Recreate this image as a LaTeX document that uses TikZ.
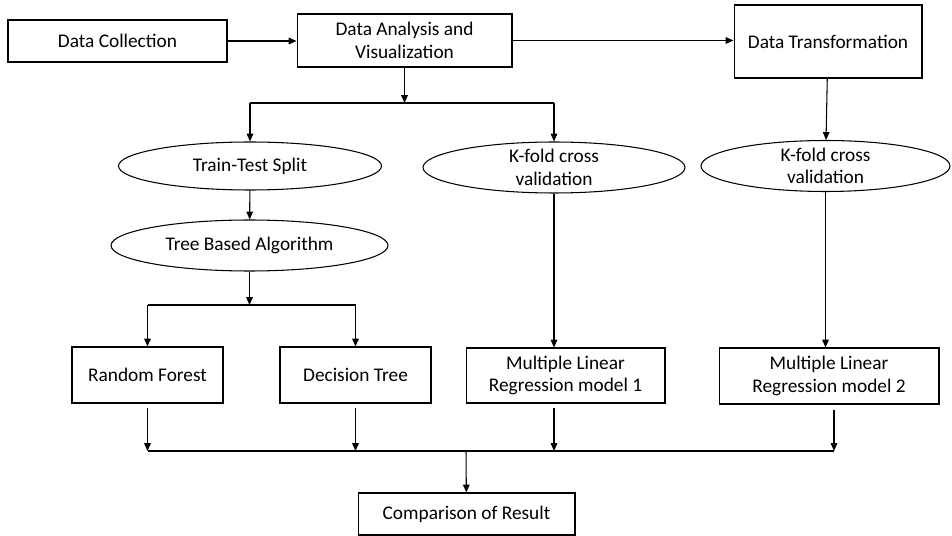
\documentclass[tikz,border=0pt]{standalone}
\usepackage{fontspec}
\setmainfont{Carlito}
\usepackage{tikz}
\usetikzlibrary{shapes}
\usetikzlibrary{arrows.meta}
\usetikzlibrary{calc}

\begin{document}
\begin{tikzpicture}[x=0.02cm,y=-0.02cm,line width=0.6pt,font=\fontsize{11}{12.8}\selectfont,
  box/.style={draw,rectangle,align=center,inner sep=0pt},
  oval/.style={draw,ellipse,align=center,inner sep=0pt},
  arr/.style={-{Triangle[length=4.5pt,width=3.8pt]}}]
  \useasboundingbox (0,0) rectangle (952,536);
  % top row
  \node[box,minimum width=4.38cm,minimum height=0.84cm] (coll) at (117.5,41) {Data Collection};
  \node[box,minimum width=4.30cm,minimum height=1.06cm] (ana) at (404.5,40.5) {Data Analysis and\\Visualization};
  \node[box,minimum width=3.76cm,minimum height=1.46cm] (trans) at (828,41.5) {Data Transformation};
  % ellipses
  \node[oval,minimum width=5.26cm,minimum height=0.96cm] (tts) at (250,166) {Train-Test Split};
  \node[oval,minimum width=5.24cm,minimum height=0.98cm] (kfa) at (554,167.5) {K-fold cross\\validation};
  \node[oval,minimum width=4.98cm,minimum height=0.96cm] (kfb) at (825.5,166) {K-fold cross\\validation};
  \node[oval,minimum width=5.54cm,minimum height=1.02cm] (tba) at (249.5,245.5) {Tree Based Algorithm};
  % models
  \node[box,minimum width=3.02cm,minimum height=1.12cm] (rf) at (147.5,375) {Random Forest};
  \node[box,minimum width=3.02cm,minimum height=1.12cm] (dt) at (355.5,375) {Decision Tree};
  \node[box,minimum width=3.98cm,minimum height=1.10cm] (mlra) at (565.5,375.5) {Multiple Linear\\Regression model 1};
  \node[box,minimum width=4.40cm,minimum height=1.12cm] (mlrb) at (829,376) {Multiple Linear\\Regression model 2};
  \node[box,minimum width=4.34cm,minimum height=0.84cm] (cmp) at (466.5,514) {Comparison of Result};
  % junctions
  \coordinate (sa) at (404.5,103);
  \coordinate (sb) at (249.5,305);
  \coordinate (j) at (466,451);

  \draw[arr] (coll.east) -- (coll.east -| ana.west);
  \draw[arr] (ana.east) -- (ana.east -| trans.west);
  \draw[arr] (ana) -- (sa);
  \draw (sa -| tts.north) -- (sa -| kfa.north);
  \draw[arr] (sa -| tts.north) -- (tts);
  \draw[arr] (sa -| kfa.north) -- (kfa);
  \draw[arr] (trans) -- (kfb);
  \draw[arr] (tts) -- (tba);
  \draw[arr] (tba) -- (sb);
  \draw (sb -| rf.north) -- (sb -| dt.north);
  \draw[arr] (sb -| rf.north) -- (rf);
  \draw[arr] (sb -| dt.north) -- (dt);
  \draw[arr] (kfa.south) -- (kfa.south |- mlra.north);
  \draw[arr] (kfb.south) -- (kfb.south |- mlrb.north);
  % bottom merge
  \draw[arr] ([yshift=-0.08cm]rf.south) -- (j -| rf.south);
  \draw[arr] ([yshift=-0.08cm]dt.south) -- (j -| dt.south);
  \draw[arr] ([yshift=-0.08cm]mlra.south -| kfa.south) -- (j -| kfa.south);
  \draw[arr] ([xshift=0.1cm,yshift=-0.1cm]mlrb.south) -- ([xshift=0.1cm]j -| mlrb.south);
  \draw (j -| rf.south) -- ([xshift=0.1cm]j -| mlrb.south);
  \draw[arr] (j) -- (cmp);
\end{tikzpicture}
\end{document}
